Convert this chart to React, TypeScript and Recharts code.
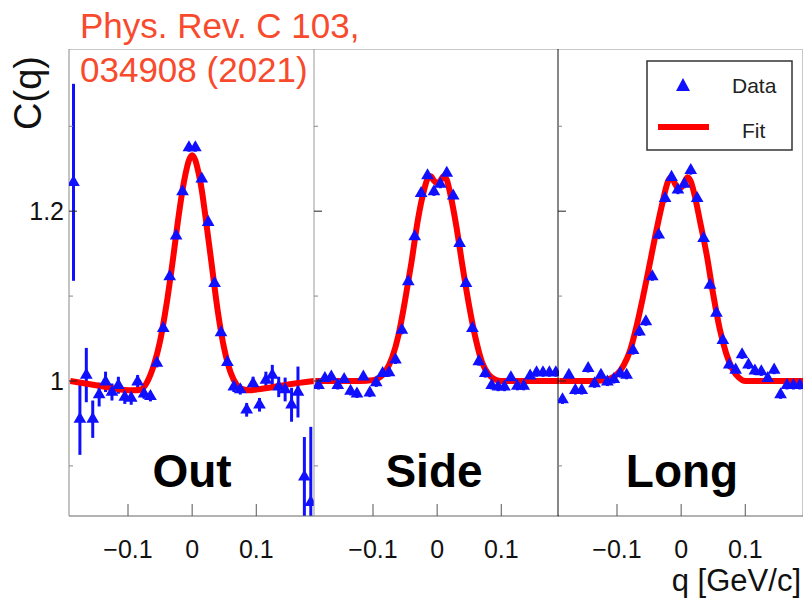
import { ComposedChart, Scatter, Line, XAxis, YAxis, ZAxis, ErrorBar } from 'recharts';

// bin centres [GeV/c], same for the three projections
const QS = [
  -0.185, -0.175, -0.165, -0.155, -0.145, -0.135, -0.125, -0.115, -0.105, -0.095,
  -0.085, -0.075, -0.065, -0.055, -0.045, -0.035, -0.025, -0.015, -0.005, 0.005,
  0.015, 0.025, 0.035, 0.045, 0.055, 0.065, 0.075, 0.085, 0.095, 0.105,
  0.115, 0.125, 0.135, 0.145, 0.155, 0.165, 0.175, 0.185,
];

const OUT_C = [
  1.234, 0.955, 1.007, 0.955, 0.984, 0.999, 0.987, 0.995, 0.981, 0.98,
  0.999, 0.985, 0.982, 1.021, 1.062, 1.123, 1.171, 1.223, 1.275, 1.275,
  1.238, 1.187, 1.115, 1.057, 1.022, 0.993, 0.99, 0.966, 0.997, 0.972,
  1.001, 1.007, 0.993, 0.99, 0.972, 0.987, 0.887, 0.857,
];
const OUT_ERR = [
  0.116, 0.042, 0.032, 0.022, 0.014, 0.012, 0.01, 0.01, 0.008, 0.008,
  0.008, 0.006, 0.006, 0.005, 0.005, 0.005, 0.005, 0.005, 0.005, 0.005,
  0.005, 0.005, 0.005, 0.005, 0.005, 0.006, 0.006, 0.008, 0.008, 0.008,
  0.01, 0.012, 0.012, 0.014, 0.02, 0.03, 0.047, 0.089,
];

const SIDE_C = [
  0.995, 1.003, 1.005, 0.995, 1.002, 0.988, 0.985, 1.005, 0.986, 0.998,
  1.009, 1.01, 1.025, 1.06, 1.117, 1.17, 1.221, 1.242, 1.223, 1.232,
  1.245, 1.218, 1.162, 1.115, 1.062, 1.023, 1.009, 0.995, 0.993, 0.993,
  1.004, 0.994, 0.994, 1.006, 1.01, 1.01, 1.01, 1.01,
];
const SIDE_ERR = [
  0.005, 0.005, 0.005, 0.005, 0.005, 0.005, 0.005, 0.005, 0.005, 0.005,
  0.005, 0.005, 0.005, 0.005, 0.005, 0.005, 0.005, 0.005, 0.005, 0.005,
  0.005, 0.005, 0.005, 0.005, 0.005, 0.005, 0.005, 0.005, 0.005, 0.005,
  0.005, 0.005, 0.005, 0.005, 0.005, 0.005, 0.005, 0.005,
];

const LONG_C = [
  0.978, 1.007, 0.989, 0.989, 1.015, 0.997, 1.007, 0.999, 1.002, 1.009,
  1.007, 1.036, 1.058, 1.07, 1.123, 1.172, 1.215, 1.24, 1.225, 1.232,
  1.248, 1.215, 1.168, 1.113, 1.08, 1.048, 1.019, 1.013, 1.031, 1.019,
  1.012, 1.011, 1.003, 1.013, 0.984, 0.995, 0.995, 0.995,
];
const LONG_ERR = [
  0.005, 0.005, 0.005, 0.005, 0.005, 0.005, 0.005, 0.005, 0.005, 0.005,
  0.005, 0.005, 0.005, 0.005, 0.005, 0.005, 0.005, 0.005, 0.005, 0.005,
  0.005, 0.005, 0.005, 0.005, 0.005, 0.005, 0.005, 0.005, 0.005, 0.005,
  0.005, 0.005, 0.005, 0.005, 0.005, 0.005, 0.005, 0.005,
];

// fit curves
const FIT_Q = [
  -0.19, -0.15, -0.12, -0.1, -0.09, -0.08, -0.07, -0.06, -0.05, -0.04, -0.03,
  -0.02, -0.015, -0.01, -0.005, 0, 0.005, 0.01, 0.015, 0.02, 0.03, 0.04,
  0.05, 0.06, 0.07, 0.08, 0.09, 0.1, 0.12, 0.15, 0.19,
];
const OUT_FIT = [
  1.0, 0.995, 0.991, 0.989, 0.989, 0.99, 0.999, 1.018, 1.047, 1.09, 1.143,
  1.2, 1.225, 1.245, 1.26, 1.266, 1.26, 1.245, 1.225, 1.198, 1.14, 1.082,
  1.038, 1.01, 0.995, 0.99, 0.989, 0.99, 0.992, 0.996, 1.0,
];
const SIDE_FIT = [
  1.0, 1.0, 1.0, 1.001, 1.004, 1.012, 1.028, 1.055, 1.095, 1.14, 1.19,
  1.226, 1.238, 1.241, 1.236, 1.233, 1.236, 1.241, 1.237, 1.222, 1.182, 1.133,
  1.088, 1.05, 1.022, 1.008, 1.002, 1.0, 1.0, 1.0, 1.0,
];
const LONG_FIT = [
  1.0, 1.0, 1.001, 1.008, 1.018, 1.035, 1.063, 1.097, 1.134, 1.172, 1.207,
  1.236, 1.24, 1.233, 1.227, 1.228, 1.234, 1.24, 1.235, 1.222, 1.186, 1.148,
  1.102, 1.062, 1.033, 1.014, 1.004, 1.0, 1.0, 1.0, 1.0,
];

const X_TICKS = [-0.1, 0, 0.1];
const X_LABELS = ['\u22120.1', '0', '0.1'];
const Y_TICKS = [0.9, 1, 1.1, 1.2, 1.3];
const Y_MAJOR = [1, 1.2];

const X_DOMAIN = [-0.192, 0.19];
const Y_DOMAIN = [0.841, 1.391];
const W = 806;
const H = 603;
const AXIS_W = 60;
const PLOT_W = 245;
const PLOT_TOP = 49;
const PLOT_H = 467;
const FONT = '"Liberation Sans", Arial, Helvetica, sans-serif';
const BLUE = '#1010ff';

const points = (c: number[], err: number[]) => QS.map((q, i) => ({ q, c: c[i], err: err[i] }));
const curve = (c: number[]) => FIT_Q.map((q, i) => ({ q, c: c[i] }));

const XTick = (props: any) => {
  const { x, y, payload } = props;
  const idx = X_TICKS.indexOf(payload.value);
  return (
    <g>
      <line x1={x} x2={x} y1={y} y2={y - 12} stroke="#555" />
      <text x={x} y={y + 42} textAnchor="middle" fontSize={25} fontFamily={FONT} fill="#111">
        {X_LABELS[idx]}
      </text>
    </g>
  );
};

const YTick = (props: any) => {
  const { x, y, payload, labels } = props;
  const major = Y_MAJOR.includes(payload.value);
  return (
    <g>
      <line x1={x} x2={x + (major ? 8 : 4)} y1={y} y2={y} stroke={major ? '#222' : '#888'} />
      {labels && major && (
        <text x={x - 5} y={y + 9} textAnchor="end" fontSize={25} fontFamily={FONT} fill="#111">
          {String(payload.value)}
        </text>
      )}
    </g>
  );
};

const Panel = ({ left, data, fit, edge, labels }: any) => (
  <div style={{ position: 'absolute', left: left - AXIS_W, top: 0 }}>
    <ComposedChart width={AXIS_W + PLOT_W} height={H} margin={{ top: PLOT_TOP, right: 0, bottom: 57, left: 0 }}>
      <XAxis
        dataKey="q" type="number" domain={X_DOMAIN} allowDataOverflow ticks={X_TICKS} interval={0}
        height={30} tickSize={0} tickMargin={0} tickLine={false} axisLine={{ stroke: '#666' }}
        tick={(p: any) => <XTick {...p} />}
      />
      <YAxis
        dataKey="c" type="number" domain={Y_DOMAIN} allowDataOverflow ticks={Y_TICKS} interval={0}
        width={AXIS_W} tickSize={0} tickMargin={0} tickLine={false} axisLine={{ stroke: edge }}
        tick={(p: any) => <YTick {...p} labels={labels} />}
      />
      <ZAxis range={[70, 70]} />
      <Scatter data={data} dataKey="c" fill={BLUE} shape="triangle" isAnimationActive={false}>
        <ErrorBar dataKey="err" direction="y" width={0} stroke={BLUE} strokeWidth={3} isAnimationActive={false} />
      </Scatter>
      <Line data={fit} dataKey="c" type="monotone" stroke="#ff0000" strokeWidth={6} dot={false} isAnimationActive={false} />
    </ComposedChart>
  </div>
);

export default function App() {
  return (
    <div style={{ position: 'absolute', left: 0, top: 0, width: W, height: H, background: '#fff', overflow: 'hidden' }}>
      <style>{`.recharts-errorBars { clip-path: url(#panelClip); }`}</style>
      <div style={{ position: 'absolute', left: 69, top: 49, width: 734, height: 467, boxSizing: 'border-box', borderTop: '1px solid #c8c8c8', borderRight: '1px solid #c8c8c8' }} />
      <Panel left={69} data={points(OUT_C, OUT_ERR)} fit={curve(OUT_FIT)} edge="#888" labels />
      <Panel left={314} data={points(SIDE_C, SIDE_ERR)} fit={curve(SIDE_FIT)} edge="#999" />
      <Panel left={558} data={points(LONG_C, LONG_ERR)} fit={curve(LONG_FIT)} edge="#111" />
      <svg width={W} height={H} style={{ position: 'absolute', left: 0, top: 0, pointerEvents: 'none' }} fontFamily={FONT}>
        <defs>
          <clipPath id="panelClip" clipPathUnits="userSpaceOnUse">
            <rect x={AXIS_W} y={PLOT_TOP} width={PLOT_W} height={PLOT_H} />
          </clipPath>
        </defs>
        <text x={80} y={38} fontSize={35} fill="#f84a2d">Phys. Rev. C 103,</text>
        <text x={80} y={82} fontSize={35} fill="#f84a2d">034908 (2021)</text>
        <text transform="translate(41,93) rotate(-90)" textAnchor="middle" fontSize={38} fill="#111">C(q)</text>
        <text x={801} y={591} textAnchor="end" fontSize={31} fill="#111">q [GeV/c]</text>
        <text x={192} y={487} textAnchor="middle" fontSize={46} fontWeight="bold" fill="#000">Out</text>
        <text x={434} y={487} textAnchor="middle" fontSize={46} fontWeight="bold" fill="#000">Side</text>
        <text x={682} y={487} textAnchor="middle" fontSize={46} fontWeight="bold" fill="#000">Long</text>
        <rect x={647} y={61} width={145} height={89} fill="#fff" stroke="#333" strokeWidth={1.5} />
        <polygon points="676,91 690,91 683,78" fill={BLUE} />
        <text x={732} y={93} fontSize={21} fill="#222">Data</text>
        <line x1={658} x2={709} y1={127} y2={127} stroke="#ff0000" strokeWidth={6} />
        <text x={742} y={138} fontSize={21} fill="#222">Fit</text>
      </svg>
    </div>
  );
}
